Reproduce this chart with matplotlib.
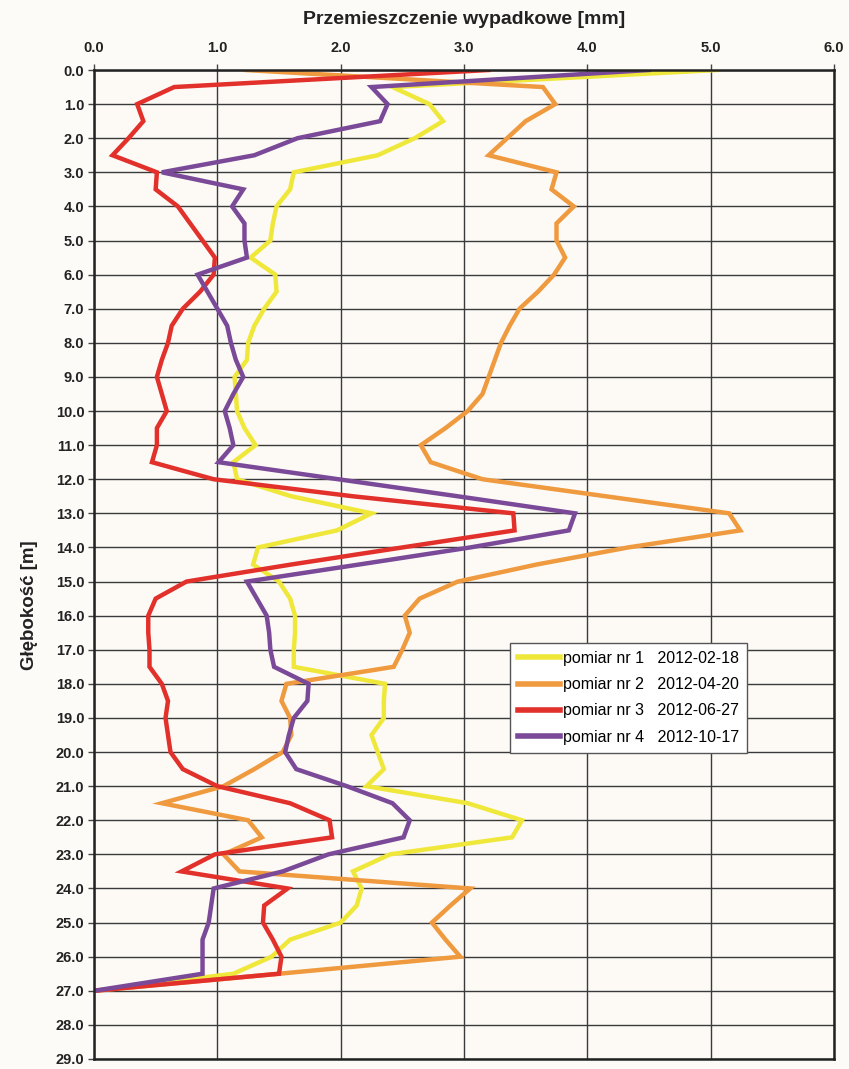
import matplotlib.pyplot as plt
import numpy as np

# depths of the inclinometer readings [m], every 0.5 m
depth = np.arange(0, 27.5, 0.5)

# resultant displacement [mm] for each survey
pomiar_1 = [5.05, 2.42, 2.72, 2.83, 2.60, 2.30, 1.62, 1.59, 1.48, 1.45,
            1.43, 1.27, 1.47, 1.48, 1.38, 1.30, 1.25, 1.24, 1.14, 1.15,
            1.16, 1.22, 1.31, 1.13, 1.16, 1.60, 2.25, 1.97, 1.33, 1.29,
            1.50, 1.59, 1.63, 1.63, 1.62, 1.62, 2.36, 2.35, 2.35, 2.25,
            2.30, 2.35, 2.21, 3.03, 3.47, 3.39, 2.40, 2.10, 2.17, 2.13,
            2.00, 1.59, 1.44, 1.13, 0.0]
pomiar_2 = [1.23, 3.64, 3.74, 3.50, 3.35, 3.20, 3.75, 3.71, 3.89, 3.75,
            3.75, 3.82, 3.73, 3.60, 3.45, 3.37, 3.30, 3.25, 3.20, 3.15,
            3.03, 2.85, 2.65, 2.73, 3.15, 4.15, 5.15, 5.24, 4.33, 3.59,
            2.95, 2.64, 2.52, 2.56, 2.50, 2.43, 1.56, 1.52, 1.59, 1.60,
            1.53, 1.30, 1.05, 0.55, 1.25, 1.36, 1.05, 1.18, 3.05, 2.89,
            2.74, 2.85, 2.97, 1.50, 0.0]
pomiar_3 = [3.20, 0.65, 0.35, 0.40, 0.28, 0.15, 0.51, 0.50, 0.68, 0.78,
            0.88, 0.98, 0.97, 0.86, 0.72, 0.63, 0.60, 0.55, 0.51, 0.55,
            0.59, 0.51, 0.51, 0.47, 0.97, 2.10, 3.40, 3.41, 2.50, 1.60,
            0.75, 0.50, 0.44, 0.44, 0.45, 0.45, 0.55, 0.60, 0.58, 0.60,
            0.62, 0.72, 1.00, 1.59, 1.91, 1.93, 0.98, 0.71, 1.57, 1.38,
            1.37, 1.45, 1.52, 1.50, 0.0]
pomiar_4 = [4.50, 2.25, 2.38, 2.32, 1.65, 1.30, 0.55, 1.21, 1.12, 1.22,
            1.22, 1.24, 0.84, 0.92, 1.00, 1.08, 1.11, 1.15, 1.21, 1.13,
            1.06, 1.10, 1.13, 1.01, 1.98, 2.95, 3.90, 3.85, 3.05, 2.15,
            1.24, 1.32, 1.40, 1.42, 1.43, 1.46, 1.74, 1.73, 1.62, 1.58,
            1.55, 1.64, 2.05, 2.42, 2.56, 2.51, 1.90, 1.53, 0.97, 0.95,
            0.93, 0.88, 0.88, 0.88, 0.0]

labels = ["pomiar nr 1   2012-02-18",
          "pomiar nr 2   2012-04-20",
          "pomiar nr 3   2012-06-27",
          "pomiar nr 4   2012-10-17"]
colors = ["#efe83a", "#ef9a3e", "#e2302b", "#7a4a98"]

W, H = 849, 1069
fig = plt.figure(figsize=(W / 100, H / 100), dpi=100, facecolor="#fdfbf8")
ax = fig.add_axes([94 / W, 1 - 1059 / H, (834 - 94) / W, (1059 - 70) / H])
ax.set_facecolor("#fdfaf6")

for series, color, label in zip([pomiar_1, pomiar_2, pomiar_3, pomiar_4], colors, labels):
    ax.plot(series, depth, color=color, lw=3.2, label=label, solid_joinstyle="miter")

ax.set_xlim(0, 6)
ax.set_ylim(29, 0)
ax.set_xticks(np.arange(0, 6.1, 1))
ax.set_yticks(np.arange(0, 29.1, 1))
ax.set_xticklabels([f"{v:.1f}" for v in np.arange(0, 6.1, 1)])
ax.set_yticklabels([f"{v:.1f}" for v in np.arange(0, 29.1, 1)])
ax.xaxis.tick_top()
ax.xaxis.set_label_position("top")

for lbl in ax.get_xticklabels() + ax.get_yticklabels():
    lbl.set_fontfamily(["Liberation Sans Narrow", "Liberation Sans", "DejaVu Sans"])
    lbl.set_fontweight("bold")
    lbl.set_fontsize(10.5)
    lbl.set_color("#222222")
ax.tick_params(axis="both", length=4, width=1, color="#444444")
ax.tick_params(axis="x", pad=7)
ax.tick_params(axis="y", pad=3)

ax.grid(True, color="#3a3a3a", lw=1.0)
ax.set_axisbelow(True)
for side, spine in ax.spines.items():
    spine.set_color("#222222")
    spine.set_linewidth(1.8)

ax.set_xlabel("Przemieszczenie wypadkowe [mm]", fontsize=14, fontweight="bold",
              family=["Liberation Sans", "DejaVu Sans"], labelpad=12, color="#222222")
ax.set_ylabel("Głębokość [m]", fontsize=13.5, fontweight="bold",
              family=["Liberation Sans", "DejaVu Sans"], color="#222222")
ax.yaxis.set_label_coords(-0.076, 0.459)

leg = ax.legend(loc="upper left", bbox_to_anchor=((510 - 94) / 740, (1059 - 643) / 989),
                frameon=True, fancybox=False, framealpha=1, edgecolor="#555555",
                prop={"family": ["Liberation Sans", "DejaVu Sans"], "size": 11.5},
                handlelength=2.6, handletextpad=0.2, labelspacing=0.7,
                borderpad=0.5, borderaxespad=0)
leg.get_frame().set_linewidth(1.0)
for line in leg.get_lines():
    line.set_linewidth(4)

fig.savefig("out.png", dpi=100, facecolor=fig.get_facecolor())
